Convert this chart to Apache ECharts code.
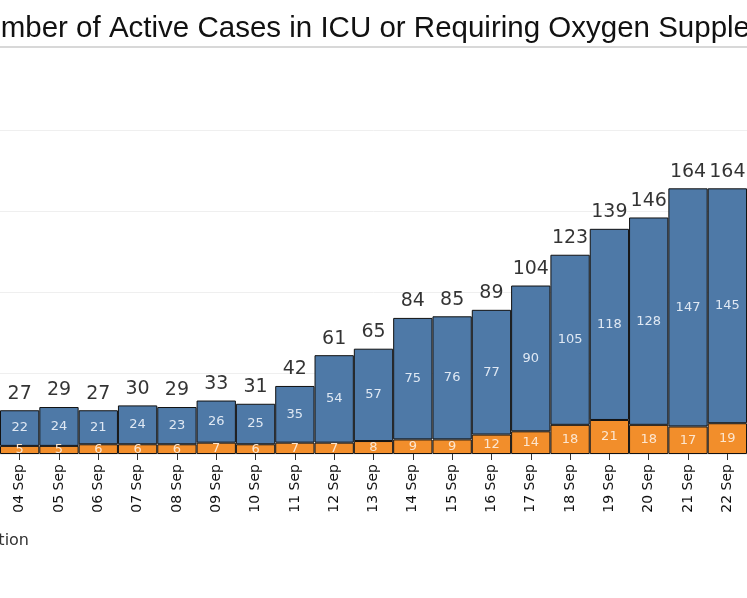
<!DOCTYPE html>
<html>
<head>
<meta charset="utf-8">
<script src="https://cdn.jsdelivr.net/npm/echarts@6/dist/echarts.min.js"></script>
<style>
  html, body { margin: 0; padding: 0; background: #fff; }
  #main { width: 747px; height: 598px; }
</style>
</head>
<body>
<div id="main"></div>
<script>
// values
var dates = ['04 Sep', '05 Sep', '06 Sep', '07 Sep', '08 Sep', '09 Sep', '10 Sep', '11 Sep', '12 Sep', '13 Sep',
  '14 Sep', '15 Sep', '16 Sep', '17 Sep', '18 Sep', '19 Sep', '20 Sep', '21 Sep', '22 Sep']
var icu = [5, 5, 6, 6, 6, 7, 6, 7, 7, 8, 9, 9, 12, 14, 18, 21, 18, 17, 19]
var oxygen = [22, 24, 21, 24, 23, 26, 25, 35, 54, 57, 75, 76, 77, 90, 105, 118, 128, 147, 145]
var yTicks = [0, 50, 100, 150, 200]

var totals = icu.map(function (v, i) { return v + oxygen[i] })

var myChart = echarts.init(document.getElementById('main'))
var option = {
  animation: false,
  graphic: [
    {
      type: 'text', x: -37, y: 29,
      style: {
        text: 'Number of Active Cases in ICU or Requiring Oxygen Supplementation',
        font: '29.5px "Liberation Sans", Arial, sans-serif',
        fill: '#111', verticalAlign: 'middle'
      }
    },
    {
      type: 'line',
      shape: { x1: 0, y1: 47, x2: 747, y2: 47 },
      style: { stroke: '#d8d8d8', lineWidth: 2 }
    },
    {
      type: 'text', x: 29, y: 541,
      style: {
        text: 'Requiring Oxygen Supplementation',
        font: '16px "DejaVu Sans", sans-serif',
        fill: '#333', align: 'right', verticalAlign: 'middle'
      }
    }
  ],
  grid: {
    left: 0,
    top: 130,
    width: 760,
    height: 324
  },
  xAxis: {
    type: 'category',
    data: dates,
    axisLine: { show: false },
    axisTick: { show: true, alignWithLabel: true, length: 6, lineStyle: { color: '#333' } },
    axisLabel: {
      rotate: 90,
      margin: 10,
      color: '#111',
      fontSize: 14,
      fontFamily: 'DejaVu Sans'
    }
  },
  yAxis: {
    type: 'value',
    min: yTicks[0],
    max: yTicks[yTicks.length - 1],
    interval: 50,
    axisLabel: { show: false },
    axisLine: { show: false },
    axisTick: { show: false },
    splitLine: { lineStyle: { color: '#efefef' } }
  },
  series: [
    {
      name: 'In ICU',
      type: 'bar',
      stack: 'cases',
      barCategoryGap: 0,
      data: icu,
      itemStyle: { color: '#f28e2b', borderColor: '#111', borderWidth: 1 },
      label: {
        show: true,
        position: 'inside',
        color: '#fce6d0',
        fontSize: 13,
        fontFamily: 'DejaVu Sans'
      }
    },
    {
      name: 'Requiring Oxygen Supplementation',
      type: 'bar',
      stack: 'cases',
      barCategoryGap: 0,
      data: oxygen,
      itemStyle: { color: '#4e79a7', borderColor: '#111', borderWidth: 1 },
      label: {
        show: true,
        position: 'inside',
        color: '#dfe8f3',
        fontSize: 13,
        fontFamily: 'DejaVu Sans'
      }
    },
    {
      // totals on top of each stack
      name: 'Total',
      type: 'scatter',
      data: totals,
      symbolSize: 0,
      label: {
        show: true,
        position: 'top',
        distance: 7,
        color: '#000',
        fontSize: 19,
        fontFamily: 'DejaVu Sans'
      }
    }
  ]
}
myChart.setOption(option)
window.addEventListener('resize', function () {
  myChart.resize()
})
</script>
</body>
</html>
